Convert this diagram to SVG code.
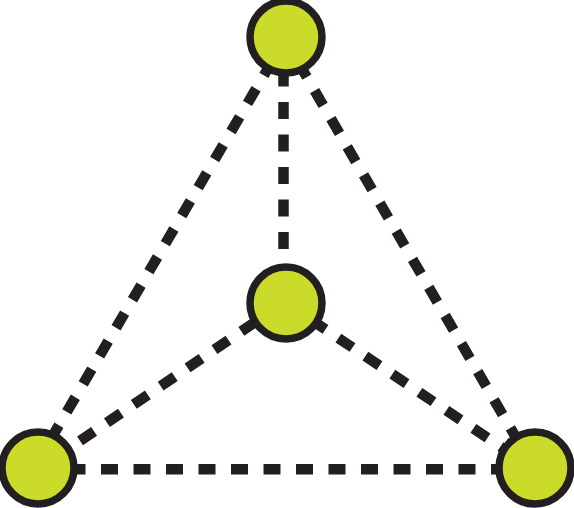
<svg xmlns="http://www.w3.org/2000/svg" width="574" height="508" viewBox="0 0 574 508">
<style>
.edge{fill:none;stroke:#231f20;stroke-width:10.5;stroke-dasharray:17 15.5;stroke-linecap:butt}
.node{fill:#cbdb2a;stroke:#231f20;stroke-width:7.5}
</style>
<rect width="574" height="508" fill="#ffffff"/>
<g id="connectors">
<line class="edge" x1="283.5" y1="37" x2="283.5" y2="303"/>
<line class="edge" x1="286.4" y1="37" x2="33" y2="469.5" stroke-dashoffset="5"/>
<line class="edge" x1="283.5" y1="37" x2="534.5" y2="469.5" stroke-dashoffset="3"/>
<line class="edge" x1="286" y1="301" x2="38" y2="469.5" stroke-dashoffset="28"/>
<line class="edge" x1="286" y1="303" x2="535" y2="469.7" stroke-dashoffset="2"/>
<line class="edge" x1="38" y1="469.3" x2="535" y2="469.3" stroke-dashoffset="2"/>
</g>
<g id="node-top"><circle class="node" cx="286" cy="37" r="36"/></g>
<g id="node-center"><circle class="node" cx="286" cy="303" r="36"/></g>
<g id="node-bottom-left"><circle class="node" cx="38" cy="468" r="36"/></g>
<g id="node-bottom-right"><circle class="node" cx="535" cy="468" r="36"/></g>
</svg>
